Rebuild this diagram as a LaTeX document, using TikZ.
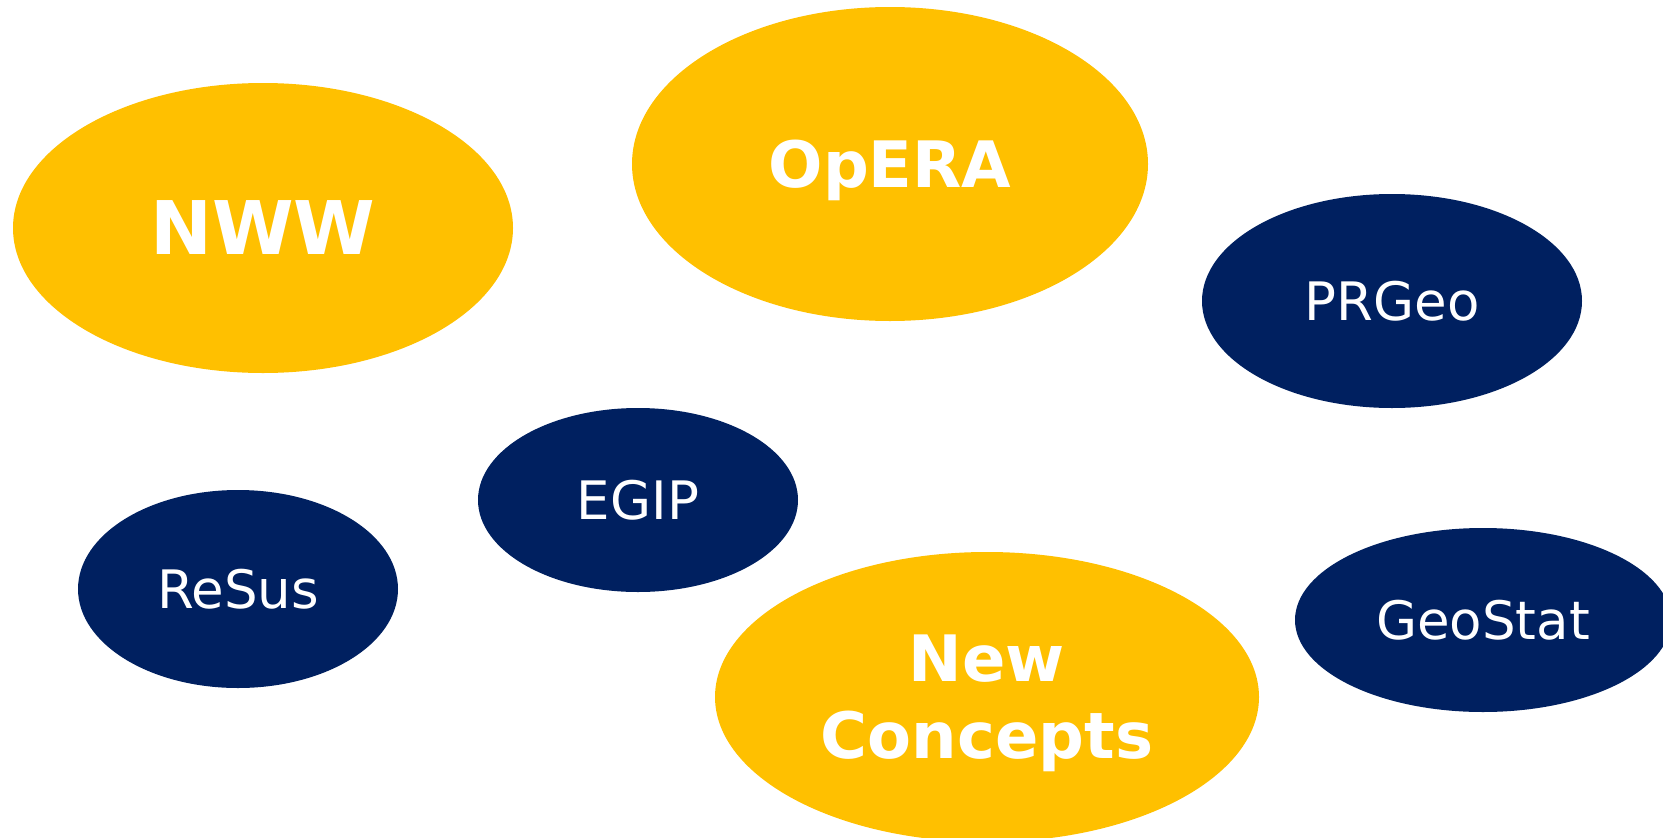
\documentclass[tikz,border=0pt]{standalone}
\usepackage{fontspec}
\setmainfont{DejaVu Sans}
\usepackage{tikz}
\usetikzlibrary{shapes}

\definecolor{projgold}{HTML}{FFC000}
\definecolor{projnavy}{HTML}{002060}

\begin{document}
\begin{tikzpicture}
    [
    x = 1pt, y = -1pt,
    every node/.style       = {text=white, inner sep=0pt, text depth=0pt, align=center},
    gold/.style             = {ellipse, fill=projgold, font=\fontsize{64}{77}\selectfont\bfseries},
    navy/.style             = {ellipse, fill=projnavy, font=\fontsize{53}{64}\selectfont}
    ]
    \useasboundingbox (0,0) rectangle (1663,838);
    % large projects
    \node [gold, minimum width=500pt, minimum height=290pt,
           font=\fontsize{74}{88}\selectfont\bfseries] (nww) at (263,228) {NWW};
    \node [gold, minimum width=516pt, minimum height=314pt] (opera) at (890,164) {OpERA};
    \node [gold, minimum width=544pt, minimum height=290pt] (newconcepts) at (987,697) {New\\Concepts};
    % smaller projects
    \node [navy, minimum width=380pt, minimum height=214pt] (prgeo) at (1392,301) {PRGeo};
    \node [navy, minimum width=320pt, minimum height=184pt] (egip) at (638,500) {EGIP};
    \node [navy, minimum width=320pt, minimum height=198pt] (resus) at (238,589) {ReSus};
    \node [navy, minimum width=376pt, minimum height=184pt] (geostat) at (1483,620) {GeoStat};
\end{tikzpicture}
\end{document}
